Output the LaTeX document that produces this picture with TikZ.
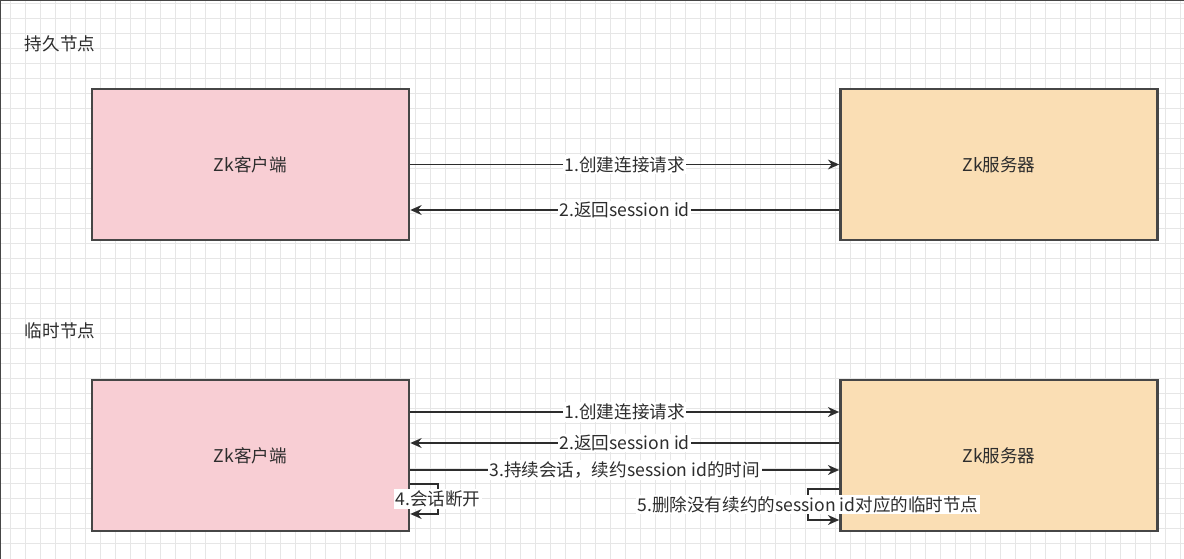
\documentclass[tikz,border=0pt]{standalone}
\usepackage{fontspec}
\setmainfont{Noto Sans CJK SC}
\usetikzlibrary{arrows.meta}
\definecolor{clientpink}{RGB}{248,206,212}
\definecolor{serverorange}{RGB}{250,222,180}
\definecolor{edgegray}{RGB}{70,70,70}
\definecolor{inkgray}{RGB}{45,45,45}
\definecolor{gridgray}{RGB}{230,230,230}

\begin{document}
\begin{tikzpicture}[x=0.025cm,y=-0.025cm,font=\fontsize{12.5}{15}\selectfont,text=inkgray,
  box/.style={draw=edgegray,line width=1.8pt,minimum width=7.925cm,minimum height=3.775cm,inner sep=0pt},
  client/.style={box,fill=clientpink},
  server/.style={box,fill=serverorange},
  flow/.style={draw=inkgray,line width=1.3pt,-{Stealth[length=8pt,width=7pt]}},
  tag/.style={fill=white,inner sep=1pt}]
\useasboundingbox (0,0) rectangle (1184,559);
\fill[white] (0,0) rectangle (1184,559);
% grid paper
\foreach \gx in {10,25,...,1180} \draw[gridgray,line width=.4pt] (\gx,0) -- (\gx,559);
\foreach \gy in {3,18,...,555} \draw[gridgray,line width=.4pt] (0,\gy) -- (1184,\gy);
\draw[edgegray,line width=1.5pt] (0,559) -- (0,0) -- (1184,0);

% persistent node
\node[anchor=west] (persist) at (20,44) {持久节点};
\node[client] (c1) at (250.5,164.5) {Zk客户端};
\node[server] (s1) at (999,164.5) {Zk服务器};
\draw[flow] (c1.east) -- node[tag] {1.创建连接请求} (s1.west);
\draw[flow] (s1.west |- 0,210) -- node[tag] {2.返回session id} (c1.east |- 0,210);

% ephemeral node
\node[anchor=west] (temp) at (20,331) {临时节点};
\node[client] (c2) at (250.5,455.5) {Zk客户端};
\node[server] (s2) at (999,455.5) {Zk服务器};
\draw[flow] (c2.east |- 0,412) -- node[tag] {1.创建连接请求} (s2.west |- 0,412);
\draw[flow] (s2.west |- 0,443) -- node[tag] {2.返回session id} (c2.east |- 0,443);
\draw[flow] (c2.east |- 0,470) -- node[tag] {3.持续会话，续约session id的时间} (s2.west |- 0,470);
\coordinate (brk) at (438,484);
\draw[flow] (c2.east |- brk) -- (brk) -- node[tag] {4.会话断开} (brk |- 0,514) -- (c2.east |- 0,514);
\coordinate (del) at (808,489);
\draw[flow] (s2.west |- del) -- (del) -- node[tag] {5.删除没有续约的session id对应的临时节点} (del |- 0,520) -- (s2.west |- 0,520);
\end{tikzpicture}
\end{document}
